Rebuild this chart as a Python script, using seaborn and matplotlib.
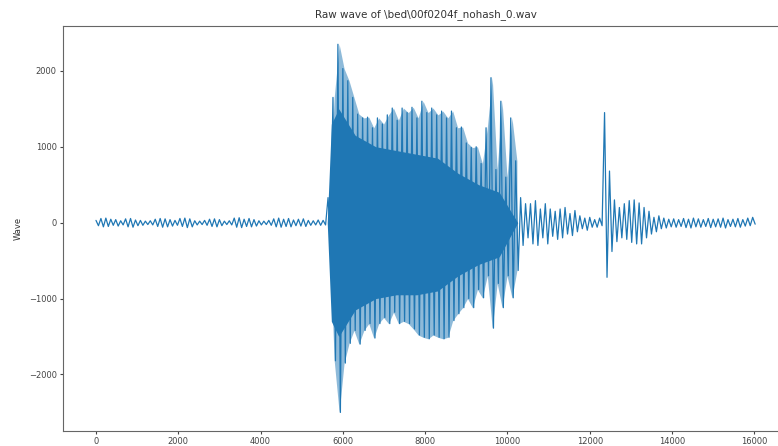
import numpy as np
import pandas as pd
import matplotlib
matplotlib.use("Agg")
import matplotlib.pyplot as plt
import seaborn as sns

# peak (hi) and trough (lo) of each 120-sample window
window = 120

quiet_hi = [30, 55, 60, 45, 40, 25, 50, 55, 35, 30, 20, 25, 45, 55, 50, 40, 30, 55, 60, 50,
            25, 20, 30, 45, 50, 40, 20, 25, 60, 65, 45, 55, 40, 25, 20, 30, 50, 60, 45, 55,
            35, 45, 50, 30, 25, 35, 30]
quiet_lo = [-40, -55, -50, -35, -45, -30, -55, -60, -40, -35, -25, -30, -50, -60, -55, -45,
            -35, -50, -65, -55, -30, -25, -35, -50, -55, -40, -25, -30, -60, -65, -50, -55,
            -45, -30, -25, -35, -55, -60, -50, -55, -40, -45, -50, -35, -30, -35, -30]

loud_hi = [330, 1650, 2350, 2030, 1870, 1650, 1430, 1380, 1390, 1250, 1380, 1300, 1420, 1510,
           1350, 1510, 1450, 1520, 1380, 1600, 1450, 1510, 1420, 1470, 1380, 1470, 1250, 1260,
           1050, 990, 1000, 780, 1250, 1910, 700, 1600, 600, 1380, 815]
loud_lo = [-200, -1820, -2500, -1850, -1590, -1420, -1600, -1420, -1330, -1520, -1330, -1250,
           -1330, -1180, -1330, -1300, -1330, -1400, -1480, -1510, -1530, -1480, -1510, -1530,
           -1510, -1290, -1200, -1120, -1000, -1120, -880, -990, -700, -1390, -800, -1120,
           -700, -990, -630]

decay_hi = [330, 250, 250, 290, 180, 250, 180, 150, 180, 200, 120, 160, 90, 60, 70, 40, 60,
            1450, 680, 300, 200, 250, 290, 300, 260, 200, 150, 70, 90]
decay_lo = [-300, -200, -280, -300, -200, -280, -180, -220, -200, -150, -170, -120, -80, -100,
            -60, -60, -40, -720, -380, -250, -200, -220, -260, -280, -280, -200, -150, -120, -80]

tail_hi = [60, 45, 50, 40, 55, 45, 60, 50, 40, 55, 45, 50, 60, 40, 45, 55, 40, 60, 70]
tail_lo = [-70, -55, -60, -50, -65, -70, -55, -60, -50, -65, -55, -60, -70, -50, -55, -60,
           -45, -40, -20]

# dense core of the voiced part
core_pos = [5620, 5720, 5900, 6300, 6800, 7300, 7800, 8300, 8800, 9300, 9800, 10250]
core_hi = [0, 1300, 1500, 1150, 1000, 950, 900, 850, 650, 500, 400, 0]
core_lo = [0, -1300, -1500, -1150, -1000, -950, -950, -900, -700, -550, -450, 0]

title = "Raw wave of \\bed\\00f0204f_nohash_0.wav"

hi = quiet_hi + loud_hi + decay_hi + tail_hi
lo = quiet_lo + loud_lo + decay_lo + tail_lo
start = np.arange(len(hi)) * window
wave = pd.DataFrame({
    "sample": np.ravel(np.column_stack([start, start + window // 2])),
    "value": np.ravel(np.column_stack([hi, lo])),
})

# envelope of the loud part (many overlapping thin cycles)
n0 = len(quiet_hi)
loud_start = start[n0:n0 + len(loud_hi)]

sns.set_style("ticks", {"axes.edgecolor": "#666666", "xtick.color": "#444444",
                        "ytick.color": "#444444", "text.color": "#333333",
                        "axes.labelcolor": "#333333"})

blue = "#1f77b4"
fig = plt.figure(figsize=(7.78, 4.46), dpi=100)
ax = fig.add_axes([0.081, 0.034, 0.932, 0.908])

ax.fill_between(loud_start + window // 4, loud_lo, loud_hi, color=blue, alpha=0.5,
                linewidth=0)
ax.fill_between(core_pos, core_lo, core_hi, color=blue, linewidth=0)
sns.lineplot(data=wave, x="sample", y="value", ax=ax, color=blue,
             linewidth=0.9, estimator=None, sort=False)

ax.set_title(title, fontsize=7.5)
ax.set_xlabel("")
ax.set_ylabel("Wave", fontsize=6)
ax.set_xticks([0, 2000, 4000, 6000, 8000, 10000, 12000, 14000, 16000])
ax.set_yticks([-2000, -1000, 0, 1000, 2000])
ax.tick_params(labelsize=6, length=2.5, width=0.8, pad=2)

fig.savefig("out.png", dpi=100)
